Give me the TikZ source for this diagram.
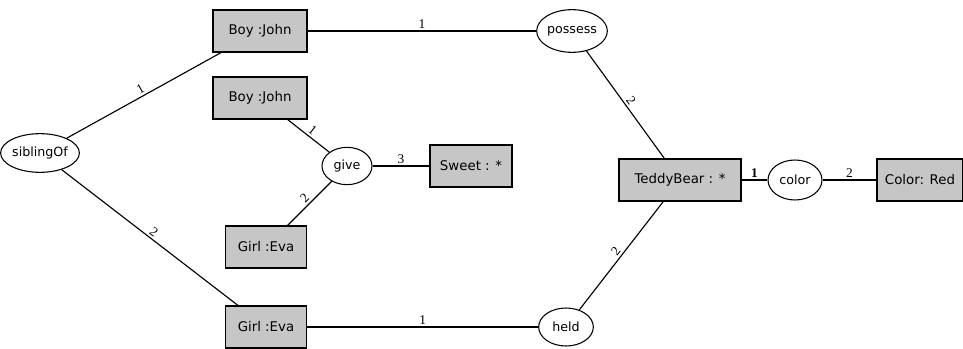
\documentclass[tikz,border=0pt]{standalone}
\usepackage{fontspec}
\setmainfont{DejaVu Sans}
\newfontfamily\numfont{Liberation Serif}
\usepackage{tikz}
\usetikzlibrary{shapes.geometric}

\tikzset{
  concept/.style={draw, line width=0.9pt, fill=gray!45, inner sep=0pt,
    minimum height=31.5pt, font=\fontsize{10}{12}\selectfont},
  relation/.style={draw, ellipse, line width=0.8pt, fill=white, inner sep=0pt,
    minimum height=29pt, font=\fontsize{9.5}{11}\selectfont},
  arc/.style={line width=0.85pt},
  arclabel/.style={sloped, above, inner sep=1.5pt, font=\numfont\fontsize{10}{11}\selectfont}
}

\begin{document}
\begin{tikzpicture}[x=0.75pt, y=-0.75pt]
\useasboundingbox (0,0) rectangle (963,349);

% concepts
\node[concept, minimum width=70.5pt] (boyA) at (260, 31) {Boy :John};
\node[concept, minimum width=70.5pt] (boyB) at (260, 98) {Boy :John};
\node[concept, minimum width=61pt] (girlA) at (266, 247) {Girl :Eva};
\node[concept, minimum width=61pt] (girlB) at (266, 327) {Girl :Eva};
\node[concept, minimum width=61.5pt] (sweet) at (471, 166) {Sweet : *};
\node[concept, minimum width=91.5pt] (teddy) at (680, 180) {TeddyBear : *};
\node[concept, minimum width=64.5pt] (red) at (920, 180) {Color: Red};

% relations
\node[relation, minimum width=50pt] (sibling) at (40, 153) {siblingOf};
\node[relation, minimum width=37.5pt, minimum height=28pt] (give) at (347, 166) {give};
\node[relation, minimum width=52pt, minimum height=32pt] (possess) at (572, 31) {possess};
\node[relation, minimum width=41pt, minimum height=28.5pt] (held) at (566, 327) {held};
\node[relation, minimum width=40.5pt, minimum height=30pt] (color) at (795, 180) {color};

% arcs
\draw[arc] (sibling) -- node[arclabel] {1} (boyA);
\draw[arc] (sibling) -- node[arclabel] {2} (girlB);
\draw[arc] (boyA) -- node[arclabel] {1} (possess);
\draw[arc] (possess) -- node[arclabel] {2} (teddy);
\draw[arc] (boyB) -- node[arclabel] {1} (give);
\draw[arc] (give) -- node[arclabel] {2} (girlA);
\draw[arc] (give) -- node[arclabel] {3} (sweet);
\draw[arc] (girlB) -- node[arclabel] {1} (held);
\draw[arc] (held) -- node[arclabel] {2} (teddy);
\draw[arc] (teddy) -- node[arclabel] {\bfseries 1} (color);
\draw[arc] (color) -- node[arclabel] {2} (red);
\end{tikzpicture}
\end{document}
